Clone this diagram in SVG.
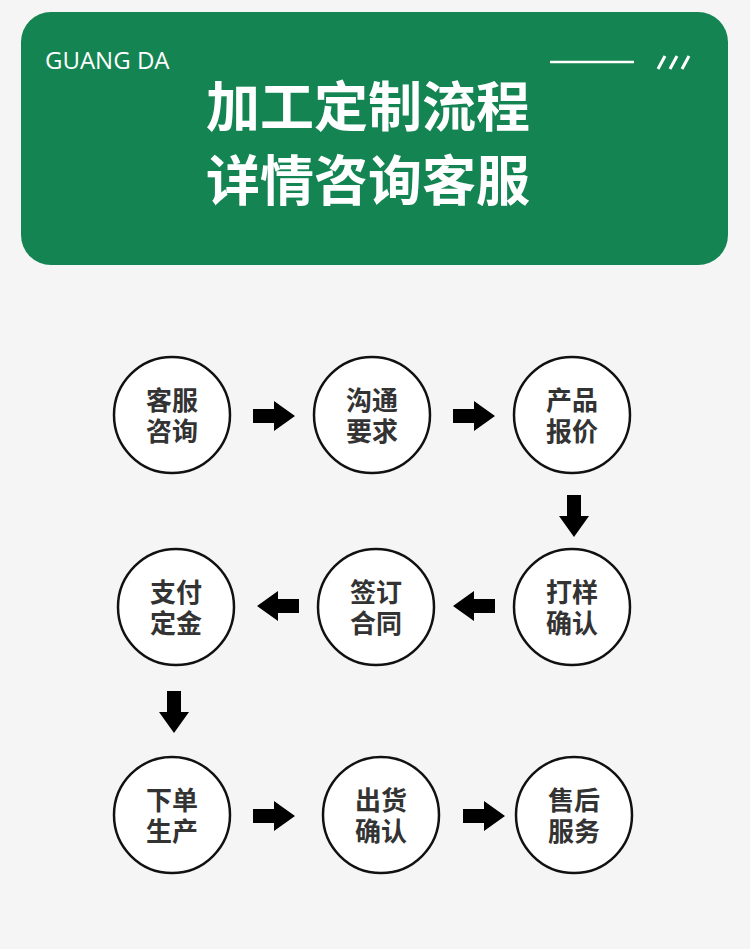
<svg xmlns="http://www.w3.org/2000/svg" width="750" height="949" viewBox="0 0 750 949">
<style>
.c{fill:#fff;stroke:#111;stroke-width:2.5}
.t{font-family:"Noto Sans CJK SC",sans-serif;font-weight:bold;font-size:26px;fill:#333;text-anchor:middle}
.h{font-family:"Noto Sans CJK SC",sans-serif;font-weight:bold;font-size:54px;fill:#fff}
</style>
<defs>
<path id="ar" d="M-21,-7H0V-15L21,0L0,15V7H-21Z" fill="#000"/>
</defs>
<rect width="750" height="949" fill="#f5f5f5"/>
<g id="header">
<rect x="21" y="12" width="707" height="253" rx="30" fill="#138452"/>
<text x="45" y="69" font-family="Open Sans,sans-serif" font-size="24" fill="#fff">GUANG DA</text>
<line x1="550" y1="62" x2="634" y2="62" stroke="#fff" stroke-width="2.5"/>
<path d="M658,69L665,56M670,69L677,56M682,69L689,56" stroke="#fff" stroke-width="3" fill="none"/>
<text class="h" x="206" y="127">加工定制流程</text>
<text class="h" x="206" y="201">详情咨询客服</text>
</g>
<g id="n1"><circle class="c" cx="172" cy="415" r="58"/><text class="t" x="172" y="410">客服</text><text class="t" x="172" y="441">咨询</text></g>
<g id="n2"><circle class="c" cx="372" cy="415" r="58"/><text class="t" x="372" y="410">沟通</text><text class="t" x="372" y="441">要求</text></g>
<g id="n3"><circle class="c" cx="572" cy="415" r="58"/><text class="t" x="572" y="410">产品</text><text class="t" x="572" y="441">报价</text></g>
<g id="n4"><circle class="c" cx="572" cy="607" r="58"/><text class="t" x="572" y="602">打样</text><text class="t" x="572" y="633">确认</text></g>
<g id="n5"><circle class="c" cx="376" cy="607" r="58"/><text class="t" x="376" y="602">签订</text><text class="t" x="376" y="633">合同</text></g>
<g id="n6"><circle class="c" cx="176" cy="607" r="58"/><text class="t" x="176" y="602">支付</text><text class="t" x="176" y="633">定金</text></g>
<g id="n7"><circle class="c" cx="172" cy="815" r="58"/><text class="t" x="172" y="810">下单</text><text class="t" x="172" y="841">生产</text></g>
<g id="n8"><circle class="c" cx="381" cy="815" r="58"/><text class="t" x="381" y="810">出货</text><text class="t" x="381" y="841">确认</text></g>
<g id="n9"><circle class="c" cx="574" cy="815" r="58"/><text class="t" x="574" y="810">售后</text><text class="t" x="574" y="841">服务</text></g>
<g id="connectors">
<use href="#ar" transform="translate(274,416)"/>
<use href="#ar" transform="translate(474,416)"/>
<use href="#ar" transform="translate(574,516) rotate(90)"/>
<use href="#ar" transform="translate(474,606) rotate(180)"/>
<use href="#ar" transform="translate(278,606) rotate(180)"/>
<use href="#ar" transform="translate(174,712) rotate(90)"/>
<use href="#ar" transform="translate(274,816)"/>
<use href="#ar" transform="translate(484,816)"/>
</g>
</svg>
